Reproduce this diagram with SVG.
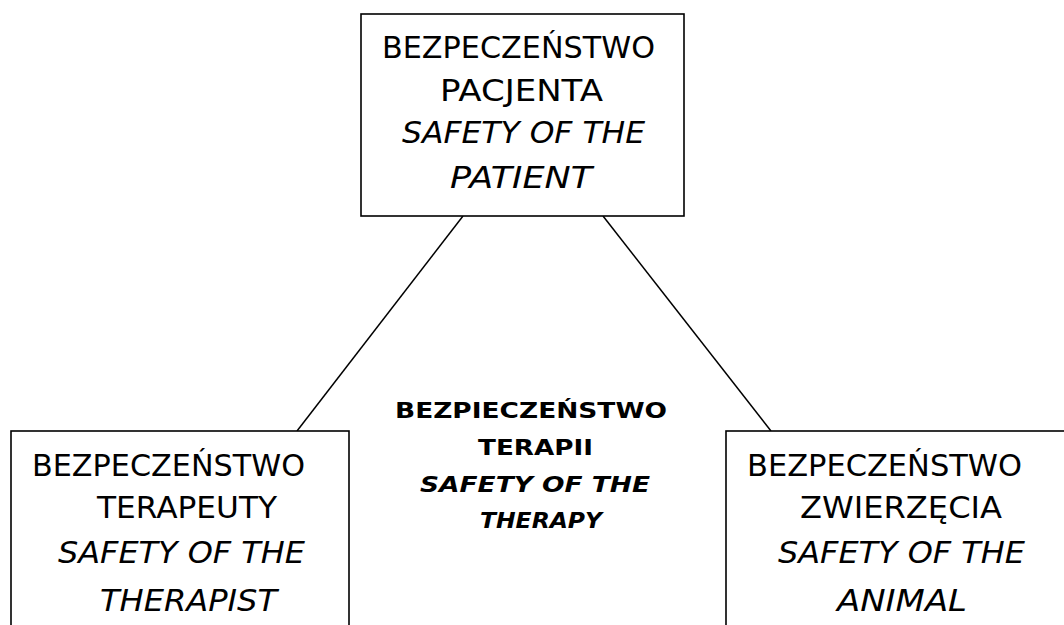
<svg xmlns="http://www.w3.org/2000/svg" width="1064" height="625" viewBox="0 0 1064 625">
<style>
.box{fill:#fff;stroke:#000;stroke-width:1.6}
.ln{stroke:#000;stroke-width:1.5;fill:none}
text{font-family:"DejaVu Sans",sans-serif;font-size:31px;fill:#000;text-anchor:middle}
.it{font-style:italic}
.c{font-size:21px;font-weight:bold}
</style>
<rect width="1064" height="625" fill="#fff"/>
<g id="connectors">
<line class="ln" x1="463" y1="216" x2="297" y2="431"/>
<line class="ln" x1="603" y1="216" x2="771" y2="431"/>
</g>
<g id="patient">
<rect class="box" x="361" y="14" width="323" height="202"/>
<text x="518.5" y="58" textLength="273" lengthAdjust="spacingAndGlyphs">BEZPECZEŃSTWO</text>
<text x="521.5" y="101" textLength="163" lengthAdjust="spacingAndGlyphs">PACJENTA</text>
<text class="it" x="523.5" y="143" textLength="243" lengthAdjust="spacingAndGlyphs">SAFETY OF THE</text>
<text class="it" x="521" y="188" textLength="142" lengthAdjust="spacingAndGlyphs">PATIENT</text>
</g>
<g id="therapist">
<rect class="box" x="11" y="431" width="338" height="220"/>
<text x="168.5" y="476" textLength="273" lengthAdjust="spacingAndGlyphs">BEZPECZEŃSTWO</text>
<text x="187" y="518" textLength="180" lengthAdjust="spacingAndGlyphs">TERAPEUTY</text>
<text class="it" x="181.5" y="563" textLength="247" lengthAdjust="spacingAndGlyphs">SAFETY OF THE</text>
<text class="it" x="188.5" y="611" textLength="177" lengthAdjust="spacingAndGlyphs">THERAPIST</text>
</g>
<g id="animal">
<rect class="box" x="726" y="431" width="360" height="220"/>
<text x="884.5" y="476" textLength="275" lengthAdjust="spacingAndGlyphs">BEZPECZEŃSTWO</text>
<text x="901" y="518" textLength="202" lengthAdjust="spacingAndGlyphs">ZWIERZĘCIA</text>
<text class="it" x="901.5" y="563" textLength="247" lengthAdjust="spacingAndGlyphs">SAFETY OF THE</text>
<text class="it" x="902" y="611" textLength="130" lengthAdjust="spacingAndGlyphs">ANIMAL</text>
</g>
<g id="therapy">
<text class="c" x="531" y="418" textLength="272" lengthAdjust="spacingAndGlyphs">BEZPIECZEŃSTWO</text>
<text class="c" x="535.5" y="455" textLength="115" lengthAdjust="spacingAndGlyphs">TERAPII</text>
<text class="c it" x="535" y="492" textLength="230" lengthAdjust="spacingAndGlyphs">SAFETY OF THE</text>
<text class="c it" x="541" y="528" textLength="122" lengthAdjust="spacingAndGlyphs">THERAPY</text>
</g>
</svg>
